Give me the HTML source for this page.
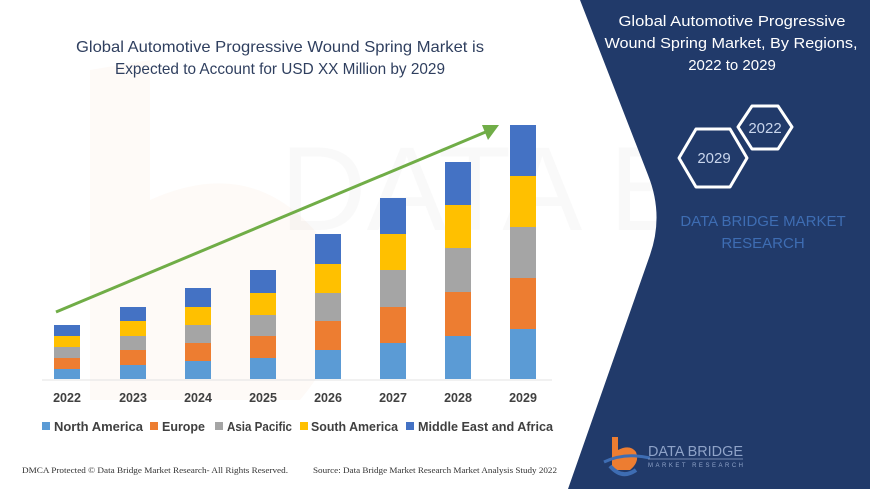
<!DOCTYPE html>
<html><head><meta charset="utf-8"><style>
html,body{margin:0;padding:0;background:#fff;}
svg{display:block;}
</style></head><body>
<svg width="870" height="489" viewBox="0 0 870 489" xmlns="http://www.w3.org/2000/svg" font-family="Liberation Sans, sans-serif">
<rect width="870" height="489" fill="#fff"/>
<g opacity="0.035" fill="#e8702a"><path d="M90,70 L150,60 L150,200 Q260,150 330,250 Q360,330 300,400 L90,400 Z"/></g>
<g opacity="0.025" fill="#333" font-size="120"><text x="280" y="230">DATA BRIDGE</text></g>
<path d="M580,0 L648,175 Q664,215 650,255 L568,489 L870,489 L870,0 Z" fill="#213a6a"/>
<g fill="#2f3f5f" font-size="16" text-anchor="middle">
<text x="280" y="52" textLength="408" lengthAdjust="spacingAndGlyphs">Global Automotive Progressive Wound Spring Market is</text>
<text x="280" y="74" textLength="330" lengthAdjust="spacingAndGlyphs">Expected to Account for USD XX Million by 2029</text>
</g>
<line x1="42" y1="380" x2="552" y2="380" stroke="#e3e3e3" stroke-width="1"/>
<g>
<rect x="54" y="369" width="26" height="10" fill="#5b9bd5"/><rect x="54" y="358" width="26" height="11" fill="#ed7d31"/><rect x="54" y="347" width="26" height="11" fill="#a5a5a5"/><rect x="54" y="336" width="26" height="11" fill="#ffc000"/><rect x="54" y="325" width="26" height="11" fill="#4472c4"/>
<rect x="120" y="365" width="26" height="14" fill="#5b9bd5"/><rect x="120" y="350" width="26" height="15" fill="#ed7d31"/><rect x="120" y="336" width="26" height="14" fill="#a5a5a5"/><rect x="120" y="321" width="26" height="15" fill="#ffc000"/><rect x="120" y="307" width="26" height="14" fill="#4472c4"/>
<rect x="185" y="361" width="26" height="18" fill="#5b9bd5"/><rect x="185" y="343" width="26" height="18" fill="#ed7d31"/><rect x="185" y="325" width="26" height="18" fill="#a5a5a5"/><rect x="185" y="307" width="26" height="18" fill="#ffc000"/><rect x="185" y="288" width="26" height="19" fill="#4472c4"/>
<rect x="250" y="358" width="26" height="21" fill="#5b9bd5"/><rect x="250" y="336" width="26" height="22" fill="#ed7d31"/><rect x="250" y="315" width="26" height="21" fill="#a5a5a5"/><rect x="250" y="293" width="26" height="22" fill="#ffc000"/><rect x="250" y="270" width="26" height="23" fill="#4472c4"/>
<rect x="315" y="350" width="26" height="29" fill="#5b9bd5"/><rect x="315" y="321" width="26" height="29" fill="#ed7d31"/><rect x="315" y="293" width="26" height="28" fill="#a5a5a5"/><rect x="315" y="264" width="26" height="29" fill="#ffc000"/><rect x="315" y="234" width="26" height="30" fill="#4472c4"/>
<rect x="380" y="343" width="26" height="36" fill="#5b9bd5"/><rect x="380" y="307" width="26" height="36" fill="#ed7d31"/><rect x="380" y="270" width="26" height="37" fill="#a5a5a5"/><rect x="380" y="234" width="26" height="36" fill="#ffc000"/><rect x="380" y="198" width="26" height="36" fill="#4472c4"/>
<rect x="445" y="336" width="26" height="43" fill="#5b9bd5"/><rect x="445" y="292" width="26" height="44" fill="#ed7d31"/><rect x="445" y="248" width="26" height="44" fill="#a5a5a5"/><rect x="445" y="205" width="26" height="43" fill="#ffc000"/><rect x="445" y="162" width="26" height="43" fill="#4472c4"/>
<rect x="510" y="329" width="26" height="50" fill="#5b9bd5"/><rect x="510" y="278" width="26" height="51" fill="#ed7d31"/><rect x="510" y="227" width="26" height="51" fill="#a5a5a5"/><rect x="510" y="176" width="26" height="51" fill="#ffc000"/><rect x="510" y="125" width="26" height="51" fill="#4472c4"/>
</g>
<line x1="56" y1="312" x2="488" y2="131" stroke="#70ad47" stroke-width="3"/>
<polygon points="499,125 482,125 488,140" fill="#70ad47"/>
<g fill="#404040" font-size="12.5" font-weight="bold" text-anchor="middle">
<text x="67" y="402">2022</text><text x="133" y="402">2023</text><text x="198" y="402">2024</text><text x="263" y="402">2025</text><text x="328" y="402">2026</text><text x="393" y="402">2027</text><text x="458" y="402">2028</text><text x="523" y="402">2029</text>
</g>
<g font-size="13" fill="#404040" font-weight="bold">
<rect x="42" y="422" width="8" height="8" fill="#5b9bd5"/><text x="54" y="431" textLength="89" lengthAdjust="spacingAndGlyphs">North America</text>
<rect x="150" y="422" width="8" height="8" fill="#ed7d31"/><text x="162" y="431" textLength="43" lengthAdjust="spacingAndGlyphs">Europe</text>
<rect x="215" y="422" width="8" height="8" fill="#a5a5a5"/><text x="227" y="431" textLength="65" lengthAdjust="spacingAndGlyphs">Asia Pacific</text>
<rect x="300" y="422" width="8" height="8" fill="#ffc000"/><text x="311" y="431" textLength="87" lengthAdjust="spacingAndGlyphs">South America</text>
<rect x="406" y="422" width="8" height="8" fill="#4472c4"/><text x="418" y="431" textLength="135" lengthAdjust="spacingAndGlyphs">Middle East and Africa</text>
</g>
<g font-family="Liberation Serif, serif" font-size="8.5" fill="#333">
<text x="22" y="473" textLength="266" lengthAdjust="spacingAndGlyphs">DMCA Protected © Data Bridge Market Research- All Rights Reserved.</text>
<text x="313" y="473" textLength="244" lengthAdjust="spacingAndGlyphs">Source: Data Bridge Market Research Market Analysis Study 2022</text>
</g>
<g fill="#fff" font-size="15" text-anchor="middle">
<text x="732" y="26" textLength="227" lengthAdjust="spacingAndGlyphs">Global Automotive Progressive</text>
<text x="731" y="48" textLength="253" lengthAdjust="spacingAndGlyphs">Wound Spring Market, By Regions,</text>
<text x="732" y="70">2022 to 2029</text>
</g>
<g fill="none" stroke="#fff" stroke-width="3" stroke-linejoin="round">
<polygon points="738,127 752,106 778,106 792,127 778,149 752,149"/>
<polygon points="679,158 696,129 730,129 747,158 730,187 696,187"/>
</g>
<g fill="#c9d5ec" font-size="15" text-anchor="middle">
<text x="765" y="133">2022</text>
<text x="714" y="163">2029</text>
</g>
<g fill="#3e6db3" font-size="15" text-anchor="middle">
<text x="763" y="226">DATA BRIDGE MARKET</text>
<text x="763" y="248">RESEARCH</text>
</g>
<g>
<path d="M612,437 L618,437 L618,450 Q630,444 636,452 Q640,462 630,470 L612,470 Z" fill="#ed7d31"/>
<path d="M604,462 Q625,452 650,458" stroke="#3e6db3" stroke-width="3" fill="none"/>
<path d="M610,466 Q622,480 636,470" stroke="#3e6db3" stroke-width="4" fill="none"/>
<text x="648" y="456" font-size="15" fill="#8fa3c8" textLength="95" lengthAdjust="spacingAndGlyphs">DATA BRIDGE</text>
<line x1="648" y1="459" x2="743" y2="459" stroke="#8fa3c8" stroke-width="0.8"/>
<text x="648" y="467" font-size="6" fill="#8fa3c8" textLength="95" lengthAdjust="spacing">MARKET RESEARCH</text>
</g>
</svg>
</body></html>
